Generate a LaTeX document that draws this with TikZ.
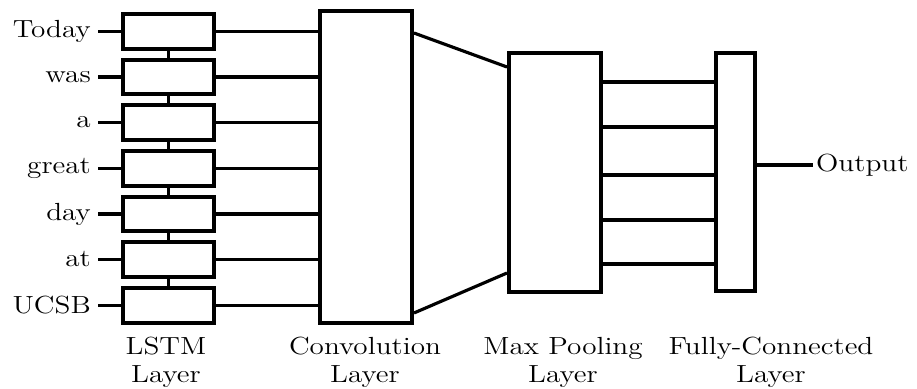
\documentclass[tikz,border=0pt]{standalone}
\usepackage{tikz}
\usetikzlibrary{positioning}

\tikzset{
  layerbox/.style={draw, line width=1.8pt, fill=white, inner sep=0pt},
  lstmbox/.style={layerbox, minimum width=40.4pt, minimum height=15.5pt},
  wire/.style={line width=1.4pt},
  word/.style={anchor=east, inner sep=2.5pt, xscale=1.18, font=\fontsize{11}{12.4}\selectfont},
  caption/.style={align=center, xscale=1.18, font=\fontsize{11}{12.4}\selectfont}
}

\begin{document}
\begin{tikzpicture}[x=0.444pt, y=-0.444pt]
\useasboundingbox (0,0) rectangle (917,389);

% LSTM Layer
\node[lstmbox] (lToday) at (168.5, 31.5) {};
\node[lstmbox] (lWas)   at (168.5, 77)   {};
\node[lstmbox] (lA)     at (168.5, 122.5) {};
\node[lstmbox] (lGreat) at (168.5, 168.5) {};
\node[lstmbox] (lDay)   at (168.5, 214)  {};
\node[lstmbox] (lAt)    at (168.5, 259.5) {};
\node[lstmbox] (lUCSB)  at (168.5, 305.5) {};

\draw[wire] (lToday.south)--(lWas.north);
\draw[wire] (lWas.south)--(lA.north);
\draw[wire] (lA.south)--(lGreat.north);
\draw[wire] (lGreat.south)--(lDay.north);
\draw[wire] (lDay.south)--(lAt.north);
\draw[wire] (lAt.south)--(lUCSB.north);

% Words into LSTM
\node[word] (wToday) at (98, 31.5) {Today};
\node[word] (wWas)   at (98, 77)   {was};
\node[word] (wA)     at (98, 122.5) {a};
\node[word] (wGreat) at (98, 168.5) {great};
\node[word] (wDay)   at (98, 214)  {day};
\node[word] (wAt)    at (98, 259.5) {at};
\node[word] (wUCSB)  at (98, 305.5) {UCSB};

\draw[wire] (wToday.east)--(lToday.west);
\draw[wire] (wWas.east)--(lWas.west);
\draw[wire] (wA.east)--(lA.west);
\draw[wire] (wGreat.east)--(lGreat.west);
\draw[wire] (wDay.east)--(lDay.west);
\draw[wire] (wAt.east)--(lAt.west);
\draw[wire] (wUCSB.east)--(lUCSB.west);

% Convolution Layer
\node[layerbox, minimum width=40.8pt, minimum height=138.5pt] (conv) at (366, 167) {};

\draw[wire] (lToday.east)--(conv.west |- lToday.east);
\draw[wire] (lWas.east)--(conv.west |- lWas.east);
\draw[wire] (lA.east)--(conv.west |- lA.east);
\draw[wire] (lGreat.east)--(conv.west |- lGreat.east);
\draw[wire] (lDay.east)--(conv.west |- lDay.east);
\draw[wire] (lAt.east)--(conv.west |- lAt.east);
\draw[wire] (lUCSB.east)--(conv.west |- lUCSB.east);

% Max Pooling Layer
\node[layerbox, minimum width=40.8pt, minimum height=106.1pt] (pool) at (555, 172.5) {};

\draw[wire] (conv.east |- 0,33)--(pool.west |- 0,67);
\draw[wire] (conv.east |- 0,313)--(pool.west |- 0,273);

% Fully-Connected Layer
\node[layerbox, minimum width=17.3pt, minimum height=105.7pt] (fc) at (735.5, 172) {};

\draw[wire] (pool.east |- 0,82)--(fc.west |- 0,82);
\draw[wire] (pool.east |- 0,127)--(fc.west |- 0,127);
\draw[wire] (pool.east |- 0,175)--(fc.west |- 0,175);
\draw[wire] (pool.east |- 0,220)--(fc.west |- 0,220);
\draw[wire] (pool.east |- 0,264)--(fc.west |- 0,264);

% Output
\node[anchor=west, inner sep=1pt, xscale=1.18, font=\fontsize{11}{12.4}\selectfont] (out) at (813, 165) {Output};
\draw[wire] (fc.east |- out.west)--(out.west);

% Captions
\node[caption] (capLSTM) at (166, 362) {LSTM\\Layer};
\node[caption] (capConv) at (365, 362) {Convolution\\Layer};
\node[caption] (capPool) at (563, 362) {Max Pooling\\Layer};
\node[caption] (capFC)   at (771, 362) {Fully-Connected\\Layer};

\end{tikzpicture}
\end{document}
